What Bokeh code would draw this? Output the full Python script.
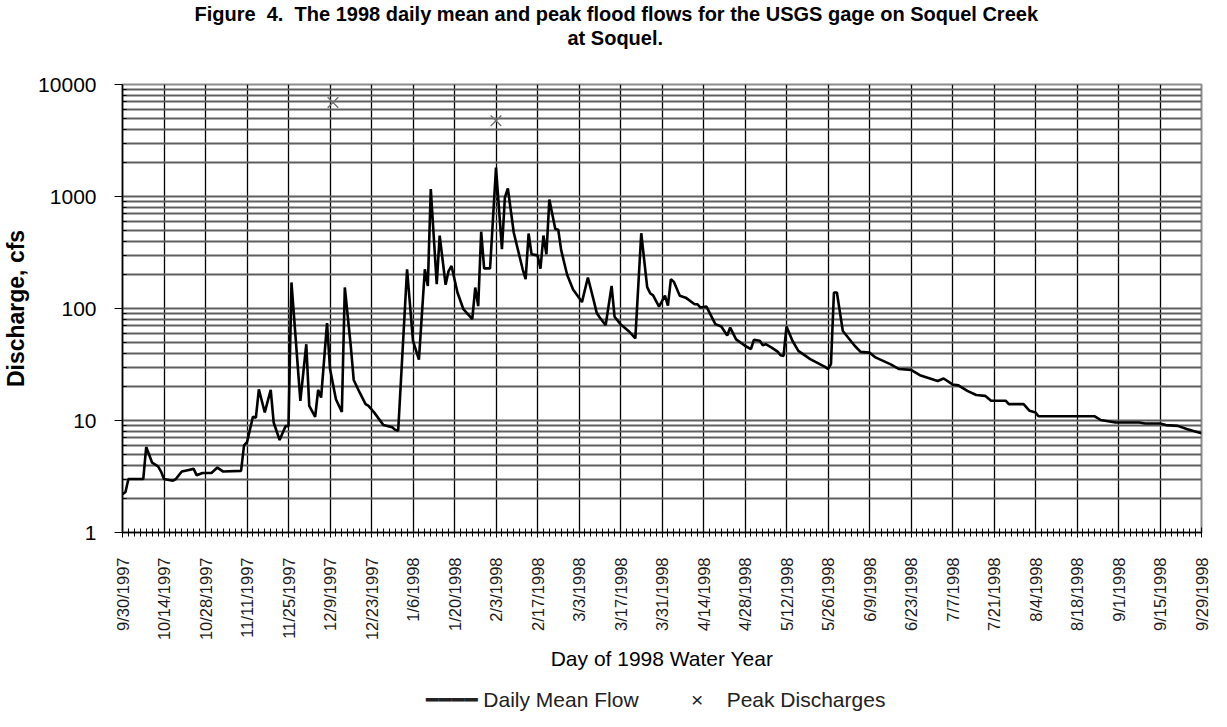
from math import pi
from bokeh.plotting import figure
from bokeh.models import (Range1d, FixedTicker, PrintfTickFormatter, LinearAxis, Title)
from bokeh.embed import file_html
from bokeh.resources import INLINE

# ---------------- data ----------------
start_date = "9/30/1997"   # day 0 of the x axis

# daily mean flow, vertices as (day offset from 9/30/1997, cfs)
flow_day = [0, 1, 2, 7, 8, 10, 12, 13, 14, 17, 18, 20, 22, 24, 25, 27, 30, 32, 34, 40,
            41, 42, 44, 45, 46, 48, 50, 51, 53, 55, 56, 57, 60, 62, 63, 65, 66, 67, 69, 70,
            72, 74, 75, 77, 78, 80, 82, 83, 85, 88, 91, 92, 93, 96, 98, 100, 102, 103, 104, 106,
            107, 109, 110, 111, 113, 115, 118, 119, 120, 121, 122, 124, 126, 128, 129, 130, 132, 135, 136, 137,
            138, 140, 141, 142, 143, 144, 146, 147, 148, 150, 152, 154, 155, 157, 159, 160, 161, 163, 165, 166,
            168, 171, 173, 175, 177, 178, 179, 181, 183, 184, 185, 186, 188, 190, 193, 194, 195, 197, 200, 202,
            204, 205, 207, 210, 212, 213, 215, 216, 217, 219, 221, 222, 223, 224, 226, 228, 232, 237, 238, 239,
            240, 241, 243, 247, 249, 252, 254, 259, 262, 266, 269, 275, 277, 280, 282, 285, 288, 291, 293, 298,
            299, 304, 306, 308, 309, 328, 330, 335, 343, 345, 350, 352, 356, 359, 361, 364]
flow_cfs = [2.2, 2.3, 3.0, 3.0, 5.8, 4.2, 3.9, 3.5, 3.0, 2.9, 3.0, 3.5, 3.6, 3.7, 3.25, 3.4, 3.4, 3.8, 3.5, 3.55,
            6.0, 6.4, 10.8, 10.6, 19, 11.8, 18.8, 9.6, 6.7, 8.9, 8.9, 171, 15, 48, 13.5, 10.8, 18.8, 16, 74, 29,
            15.5, 11.9, 154, 46.5, 23, 17.8, 14, 13.5, 11.7, 9.1, 8.7, 8.25, 8.1, 224, 51.5, 35, 224, 159, 1165, 165,
            448, 163, 216, 240, 139, 98.5, 80.4, 154, 105, 485, 228, 228, 1810, 339, 980, 1180, 475, 224, 183, 467,
            305, 298, 227, 448, 305, 940, 512, 505, 330, 200, 148, 125, 114, 189, 117, 91, 83, 71, 159, 84.5,
            72.5, 62, 54, 470, 155, 137, 131, 104, 130, 106, 183, 173, 130, 125, 109, 109, 102, 104, 72.5, 69,
            57.5, 67.6, 53, 46.5, 43.4, 52.5, 51.5, 47, 48, 44.8, 41.2, 38.2, 37.7, 69, 51.5, 41.8, 35.3, 30.1, 28.8, 31.9,
            139, 139, 63, 46.5, 41, 40.4, 36.6, 31.9, 28.8, 28.3, 25.4, 22.5, 23.7, 21, 20.6, 18.4, 16.9, 16.6, 15, 15,
            14, 14, 12.2, 11.8, 10.9, 10.9, 10.1, 9.6, 9.6, 9.4, 9.4, 9.1, 8.95, 8.4, 8.1, 7.7]

# peak flood discharges
peak_day = [71, 126]
peak_cfs = [6900, 4750]

# x tick labels (every 14 days) and y tick values
x_tick_labels = ["9/30/1997", "10/14/1997", "10/28/1997", "11/11/1997", "11/25/1997",
                 "12/9/1997", "12/23/1997", "1/6/1998", "1/20/1998", "2/3/1998",
                 "2/17/1998", "3/3/1998", "3/17/1998", "3/31/1998", "4/14/1998",
                 "4/28/1998", "5/12/1998", "5/26/1998", "6/9/1998", "6/23/1998",
                 "7/7/1998", "7/21/1998", "8/4/1998", "8/18/1998", "9/1/1998",
                 "9/15/1998", "9/29/1998"]
y_ticks = [1, 10, 100, 1000, 10000]

title_line1 = "Figure\u00a0 4.\u00a0 The 1998 daily mean and peak flood flows for the USGS gage on Soquel Creek"
title_line2 = "at Soquel."
legend_labels = ["Daily Mean Flow", "Peak Discharges"]

# ---------------- figure ----------------
FONT = "Liberation Sans"
x_ticks = [14 * i for i in range(len(x_tick_labels))]

p = figure(width=1211, height=711, y_axis_type="log", title=None,
           x_range=Range1d(0, x_ticks[-1]), y_range=Range1d(1, 10000),
           output_backend="svg", toolbar_location=None,
           min_border_left=119, min_border_right=10,
           min_border_top=84, min_border_bottom=179)
p.background_fill_color = "white"
p.border_fill_color = "white"
p.outline_line_color = "#8c8c8c"
p.outline_line_width = 2

# x axis
p.xaxis.ticker = FixedTicker(ticks=x_ticks, minor_ticks=list(range(0, x_ticks[-1] + 1, 2)))
p.xaxis.major_label_overrides = {t: lab for t, lab in zip(x_ticks, x_tick_labels)}
p.xaxis.major_label_orientation = pi / 2
p.xaxis.major_label_text_font = FONT
p.xaxis.major_label_text_font_size = "16.5px"
p.xaxis.major_label_text_color = "#1a1a1a"
p.xaxis.major_label_standoff = 20
p.xaxis.major_tick_in = 5
p.xaxis.major_tick_out = 5
p.xaxis.minor_tick_in = 4
p.xaxis.minor_tick_out = 4
p.xaxis.axis_line_color = "black"
p.xaxis.axis_line_width = 1.5
p.xaxis.major_tick_line_color = "black"
p.xaxis.minor_tick_line_color = "black"
p.xaxis.axis_label = "Day of 1998 Water Year"
p.xaxis.axis_label_text_font = FONT
p.xaxis.axis_label_text_font_size = "21px"
p.xaxis.axis_label_text_font_style = "normal"
p.xaxis.axis_label_text_color = "black"
p.xaxis.axis_label_standoff = 4

# y axis
minor_y = [m * 10 ** k for k in range(4) for m in range(2, 10)]
p.yaxis.ticker = FixedTicker(ticks=y_ticks, minor_ticks=minor_y)
p.yaxis.formatter = PrintfTickFormatter(format="%d")
p.yaxis.major_label_text_font = FONT
p.yaxis.major_label_text_font_size = "21px"
p.yaxis.major_label_text_color = "black"
p.yaxis.major_label_standoff = 18
p.yaxis.major_tick_in = 0
p.yaxis.major_tick_out = 8
p.yaxis.minor_tick_in = 4
p.yaxis.minor_tick_out = 0
p.yaxis.axis_line_color = "black"
p.yaxis.axis_line_width = 1.5
p.yaxis.axis_label = "Discharge, cfs"
p.yaxis.axis_label_text_font = FONT
p.yaxis.axis_label_text_font_size = "23px"
p.yaxis.axis_label_text_font_style = "bold"
p.yaxis.axis_label_text_color = "black"
p.yaxis.axis_label_standoff = 6

# grids
p.xgrid.grid_line_color = "black"
p.xgrid.grid_line_width = 1.3
p.ygrid.grid_line_color = "#5f5f5f"
p.ygrid.grid_line_width = 1.8
p.ygrid.minor_grid_line_color = "#5f5f5f"
p.ygrid.minor_grid_line_width = 1.8

# data
line_r = p.line(flow_day, flow_cfs, line_color="black", line_width=2.6)
peak_r = p.scatter(peak_day, peak_cfs, marker="x", size=15,
                   line_color="#707070", line_width=1.4)


def spacer_axis(gap):
    """An invisible axis used only to reserve space in a side panel."""
    return LinearAxis(ticker=FixedTicker(ticks=[0]), major_label_overrides={0: ""},
                      major_label_text_font_size="10px", major_label_standoff=0,
                      axis_line_alpha=0, major_tick_line_alpha=0, minor_tick_line_alpha=0,
                      major_tick_in=0, major_tick_out=gap, minor_tick_in=0, minor_tick_out=0)


# title: spacer next to the frame, then line 2, then line 1
p.add_layout(spacer_axis(36), "above")
for txt, off in [(title_line2, 445), (title_line1, 72)]:
    p.add_layout(Title(text=txt, align="left", offset=off, standoff=0,
                       text_font=FONT, text_font_size="20px", text_font_style="bold",
                       text_color="black"), "above")

# key below the x-axis title
p.add_layout(spacer_axis(12), "below")
nb = "\u00a0"
key_text = ("\u2501" * 4 + nb + legend_labels[0] + nb * 9 + "\u00d7" + nb * 4 + legend_labels[1])
p.add_layout(Title(text=key_text, align="left", offset=303, standoff=0,
                   text_font=FONT, text_font_size="21px", text_font_style="normal",
                   text_color="#222222"), "below")

open("out.html", "w").write(file_html(p, INLINE))
